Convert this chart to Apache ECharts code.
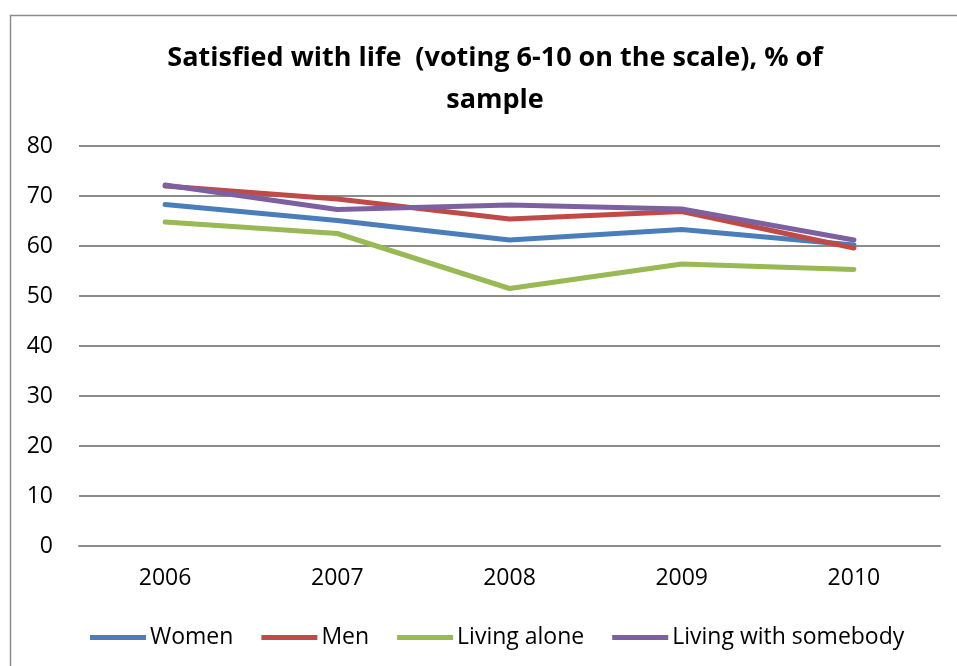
<!DOCTYPE html>
<html>

<head>
  <meta charset="utf-8">
  <title>Satisfied with life</title>
  <script src="https://cdn.jsdelivr.net/npm/echarts@6/dist/echarts.min.js"></script>
  <style>
    html, body { margin: 0; padding: 0; background: #fff; }
  </style>
</head>

<body>
  <div id="main" style="width: 957px;height:666px;"></div>
  <script type="text/javascript">
    var years = ['2006', '2007', '2008', '2009', '2010'];
    var women = [68.3, 65.1, 61.2, 63.3, 60.2];
    var men = [72.0, 69.4, 65.4, 66.9, 59.6];
    var livingAlone = [64.8, 62.5, 51.5, 56.4, 55.3];
    var livingWith = [72.2, 67.3, 68.2, 67.4, 61.2];

    var font = 'Open Sans';
    var myChart = echarts.init(document.getElementById('main'));

    function line(name, data, color) {
      return {
        name: name,
        type: 'line',
        data: data,
        symbol: 'none',
        lineStyle: { width: 5, color: color, cap: 'round', join: 'round' },
        itemStyle: { color: color }
      };
    }

    var option = {
      animation: false,
      title: {
        text: 'Satisfied with life  (voting 6-10 on the scale), % of\nsample',
        left: 490,
        textAlign: 'center',
        top: 32,
        textStyle: {
          fontFamily: font,
          fontWeight: 'bold',
          fontSize: 27,
          lineHeight: 42,
          color: '#000'
        }
      },
      graphic: [{
        type: 'rect',
        shape: { x: 10.5, y: 15.5, width: 1000, height: 700 },
        style: { fill: 'none', stroke: '#8c8c8c', lineWidth: 1.5 },
        silent: true
      }],
      legend: {
        top: 621,
        left: 85,
        itemWidth: 56,
        itemHeight: 5,
        itemGap: 28,
        icon: 'rect',
        textStyle: { fontFamily: font, fontSize: 23, color: '#000', padding: [0, 0, 0, -1] },
        data: ['Women', 'Men', 'Living alone', 'Living with somebody']
      },
      grid: {
        left: 79,
        right: 17,
        top: 146,
        bottom: 120
      },
      xAxis: {
        type: 'category',
        data: years,
        boundaryGap: true,
        axisLine: { show: true, lineStyle: { color: '#8c8c8c', width: 2 } },
        axisTick: { show: false },
        axisLabel: { fontFamily: font, fontSize: 23, color: '#000', margin: 21 }
      },
      yAxis: {
        type: 'value',
        min: 0,
        max: 80,
        interval: 10,
        axisLine: { show: false },
        axisTick: { show: false },
        splitLine: { lineStyle: { color: '#8c8c8c', width: 2 } },
        axisLabel: { fontFamily: font, fontSize: 23, color: '#000', margin: 26 }
      },
      series: [
        line('Women', women, '#4a7ebb'),
        line('Men', men, '#be4b48'),
        line('Living alone', livingAlone, '#98b954'),
        line('Living with somebody', livingWith, '#7d60a0')
      ]
    };

    myChart.setOption(option);
  </script>
</body>

</html>
